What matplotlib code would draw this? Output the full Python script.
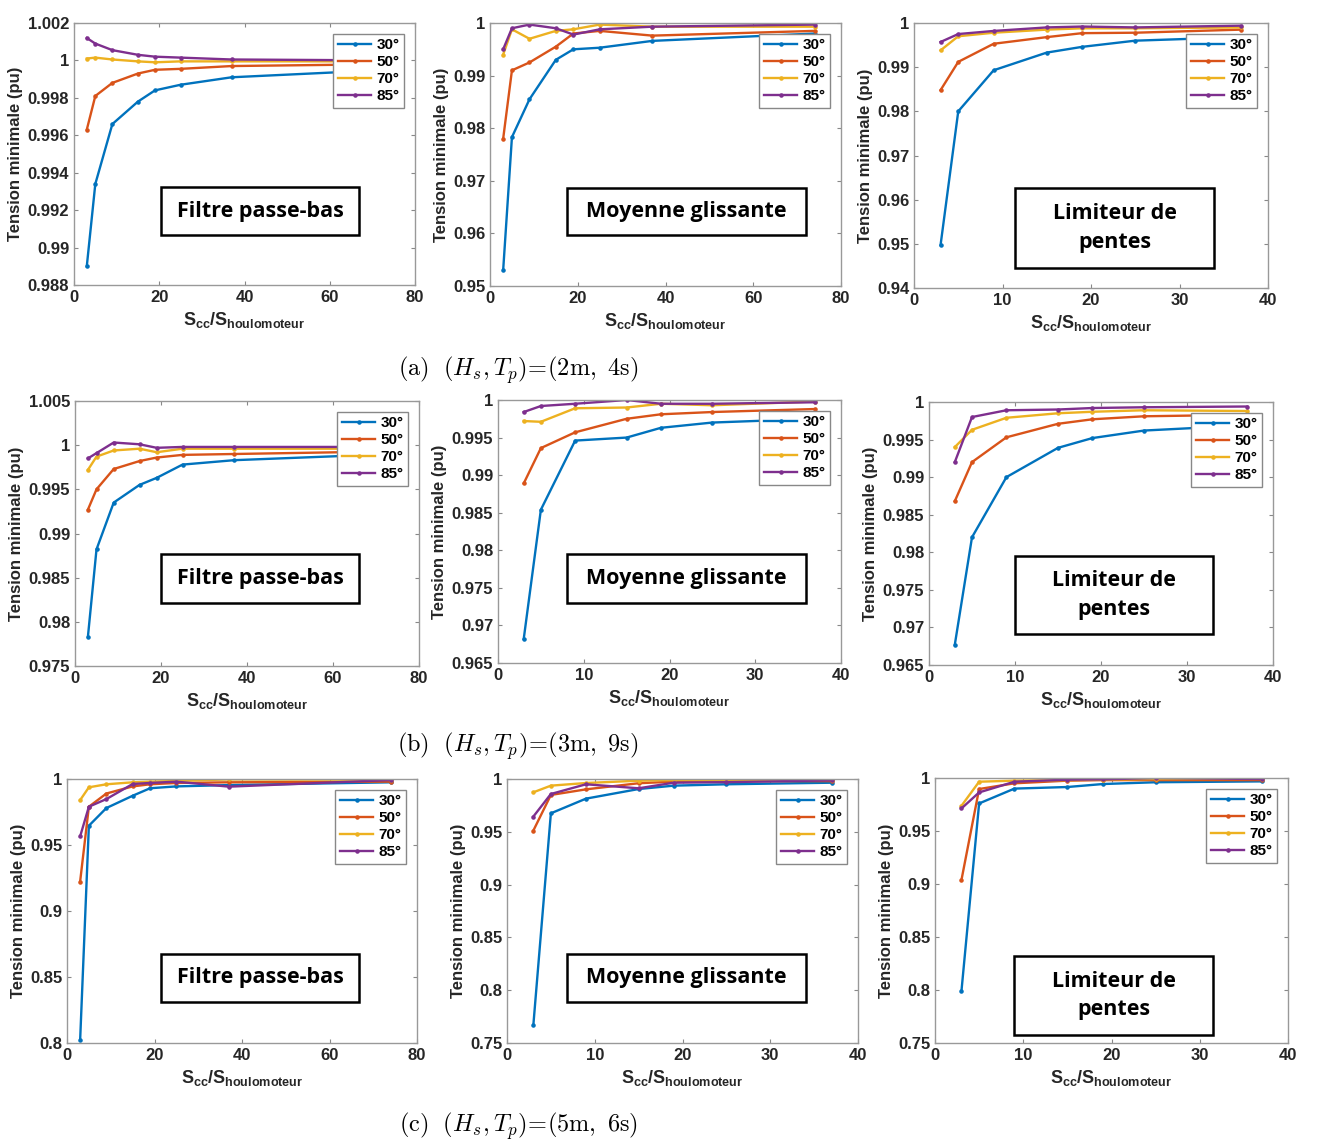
import numpy as np
import matplotlib
matplotlib.use('Agg')
import matplotlib.pyplot as plt
from matplotlib.patches import Rectangle
from matplotlib.ticker import FuncFormatter

W, H = 1320, 1144
plt.rcParams['font.family'] = ['Liberation Sans', 'DejaVu Sans']
plt.rcParams['font.weight'] = 'bold'
plt.rcParams['mathtext.fontset'] = 'custom'
plt.rcParams['mathtext.rm'] = 'Liberation Sans:bold'
plt.rcParams['mathtext.it'] = 'Liberation Sans:bold'
plt.rcParams['mathtext.bf'] = 'Liberation Sans:bold'

angles = ['30°', '50°', '70°', '85°']
colors = ['#0072BD', '#D95319', '#EDB120', '#7E2F8E']
x_long = [3, 5, 9, 15, 19, 25, 37, 74]
x_short = [3, 5, 9, 15, 19, 25, 37]

# (a) Hs=2m, Tp=4s
a_fpb_30 = [0.9890, 0.9934, 0.9966, 0.9978, 0.9984, 0.9987, 0.9991, 0.9995]
a_fpb_50 = [0.9963, 0.9981, 0.9988, 0.9993, 0.9995, 0.99955, 0.9997, 0.9998]
a_fpb_70 = [1.0001, 1.00015, 1.00005, 0.99995, 0.9999, 0.99995, 0.99995, 0.99995]
a_fpb_85 = [1.0012, 1.0009, 1.00055, 1.0003, 1.0002, 1.00015, 1.00005, 1.0]

a_mg_30 = [0.953, 0.9783, 0.9855, 0.993, 0.995, 0.9953, 0.9966, 0.998]
a_mg_50 = [0.978, 0.991, 0.9925, 0.9955, 0.998, 0.9985, 0.9976, 0.9985]
a_mg_70 = [0.994, 0.9988, 0.997, 0.9985, 0.9988, 0.9997, 0.9993, 0.9993]
a_mg_85 = [0.995, 0.9990, 0.9997, 0.9990, 0.9978, 0.9988, 0.9993, 0.9997]

a_lp_30 = [0.9497, 0.980, 0.9893, 0.9933, 0.9946, 0.996, 0.9968]
a_lp_50 = [0.9848, 0.9912, 0.9953, 0.9968, 0.9977, 0.9978, 0.9985]
a_lp_70 = [0.9938, 0.9970, 0.9978, 0.9985, 0.9988, 0.9988, 0.9990]
a_lp_85 = [0.9957, 0.9975, 0.9982, 0.9990, 0.9992, 0.9990, 0.9994]

# (b) Hs=3m, Tp=9s
b_fpb_30 = [0.9783, 0.9882, 0.9935, 0.9955, 0.9963, 0.9978, 0.9983, 0.9990]
b_fpb_50 = [0.9927, 0.9950, 0.9973, 0.9982, 0.9986, 0.9989, 0.9990, 0.9993]
b_fpb_70 = [0.9972, 0.9987, 0.9994, 0.9996, 0.9992, 0.9996, 0.9996, 0.9996]
b_fpb_85 = [0.9985, 0.9991, 1.0003, 1.0001, 0.9997, 0.9998, 0.9998, 0.9998]

b_mg_30 = [0.9682, 0.9854, 0.9946, 0.9950, 0.9963, 0.9970, 0.9975]
b_mg_50 = [0.9889, 0.9936, 0.9957, 0.9975, 0.9981, 0.9984, 0.9988]
b_mg_70 = [0.9972, 0.9971, 0.9989, 0.9990, 0.9995, 0.9993, 0.9998]
b_mg_85 = [0.9984, 0.9992, 0.9995, 1.0000, 0.9995, 0.9995, 0.9997]

b_lp_30 = [0.9677, 0.9820, 0.9900, 0.9939, 0.9952, 0.9962, 0.9969]
b_lp_50 = [0.9868, 0.9920, 0.9953, 0.9971, 0.9977, 0.9981, 0.9983]
b_lp_70 = [0.9940, 0.9963, 0.9979, 0.9985, 0.9987, 0.9989, 0.9988]
b_lp_85 = [0.9920, 0.9980, 0.9989, 0.9990, 0.9992, 0.9993, 0.9994]

# (c) Hs=5m, Tp=6s
c_fpb_30 = [0.802, 0.9646, 0.978, 0.9873, 0.993, 0.9944, 0.9954, 0.9975]
c_fpb_50 = [0.9223, 0.979, 0.989, 0.9944, 0.996, 0.997, 0.9975, 0.998]
c_fpb_70 = [0.984, 0.9937, 0.996, 0.9975, 0.998, 0.9985, 0.9997, 0.9995]
c_fpb_85 = [0.9565, 0.979, 0.9848, 0.9962, 0.997, 0.998, 0.9942, 0.9992]

c_mg_30 = [0.7667, 0.9675, 0.9814, 0.9905, 0.9937, 0.995, 0.9965]
c_mg_50 = [0.9511, 0.9849, 0.9902, 0.996, 0.9975, 0.998, 0.998]
c_mg_70 = [0.9874, 0.9937, 0.9962, 0.9984, 0.999, 0.999, 0.9992]
c_mg_85 = [0.9644, 0.9858, 0.995, 0.9912, 0.9965, 0.997, 0.9987]

c_lp_30 = [0.7992, 0.976, 0.990, 0.9915, 0.9943, 0.996, 0.9968]
c_lp_50 = [0.9039, 0.9896, 0.995, 0.9975, 0.998, 0.998, 0.998]
c_lp_70 = [0.9738, 0.9965, 0.9975, 0.998, 0.9985, 0.999, 0.9993]
c_lp_85 = [0.9713, 0.9864, 0.9965, 0.9984, 0.9987, 1.0, 0.999]

captions = [r'$\mathrm{(a)}\ \ (H_s, T_p)\!=\!(2\mathrm{m},\ 4\mathrm{s})$',
            r'$\mathrm{(b)}\ \ (H_s, T_p)\!=\!(3\mathrm{m},\ 9\mathrm{s})$',
            r'$\mathrm{(c)}\ \ (H_s, T_p)\!=\!(5\mathrm{m},\ 6\mathrm{s})$']

methods = ['Filtre passe-bas', 'Moyenne glissante', 'Limiteur de\npentes']

panels = [
    # axes px (l, t, r, b), x, series, (ymin, ymax, step), xmax, box px (l, t, r, b), label
    ((74, 23, 415, 285), x_long, [a_fpb_30, a_fpb_50, a_fpb_70, a_fpb_85], (0.988, 1.002, 0.002), 80, (161, 187, 359, 235), methods[0]),
    ((490, 23, 841, 286), x_long, [a_mg_30, a_mg_50, a_mg_70, a_mg_85], (0.95, 1.0, 0.01), 80, (567, 188, 806, 235), methods[1]),
    ((914, 23, 1268, 288), x_short, [a_lp_30, a_lp_50, a_lp_70, a_lp_85], (0.94, 1.0, 0.01), 40, (1015, 188, 1214, 268), methods[2]),
    ((75, 401, 419, 666), x_long, [b_fpb_30, b_fpb_50, b_fpb_70, b_fpb_85], (0.975, 1.005, 0.005), 80, (161, 554, 359, 603), methods[0]),
    ((498, 400, 841, 663), x_short, [b_mg_30, b_mg_50, b_mg_70, b_mg_85], (0.965, 1.0, 0.005), 40, (567, 554, 806, 603), methods[1]),
    ((929, 402, 1273, 665), x_short, [b_lp_30, b_lp_50, b_lp_70, b_lp_85], (0.965, 1.0, 0.005), 40, (1015, 556, 1213, 634), methods[2]),
    ((67, 779, 417, 1043), x_long, [c_fpb_30, c_fpb_50, c_fpb_70, c_fpb_85], (0.8, 1.0, 0.05), 80, (161, 954, 359, 1002), methods[0]),
    ((507, 779, 858, 1043), x_short, [c_mg_30, c_mg_50, c_mg_70, c_mg_85], (0.75, 1.0, 0.05), 40, (567, 954, 806, 1002), methods[1]),
    ((935, 778, 1288, 1043), x_short, [c_lp_30, c_lp_50, c_lp_70, c_lp_85], (0.75, 1.0, 0.05), 40, (1014, 956, 1213, 1035), methods[2]),
]

fig = plt.figure(figsize=(W / 100, H / 100), dpi=100)
fmt = FuncFormatter(lambda v, p: '%g' % round(v, 6))
tick_col = '#262626'

for (l, t, r, b), x, series, (y0, y1, ys), xmax, (bl, bt, br, bb), label in panels:
    ax = fig.add_axes([l / W, 1 - b / H, (r - l) / W, (b - t) / H])
    for s, c, name in zip(series, colors, angles):
        ax.plot(x, s, '.-', color=c, lw=1.7, ms=4.5, label=name)
    ax.set_xlim(0, xmax)
    ax.set_ylim(y0, y1)
    ax.set_xticks(np.arange(0, xmax + 1, xmax / 4))
    ax.set_yticks(np.round(np.arange(y0, y1 + ys / 2, ys), 6))
    ax.xaxis.set_major_formatter(FuncFormatter(lambda v, p: '%g' % v))
    ax.yaxis.set_major_formatter(fmt)
    ax.tick_params(direction='in', top=True, right=True, length=3, width=0.8,
                   colors='#888888', labelcolor=tick_col, labelsize=12)
    for lab in ax.get_xticklabels() + ax.get_yticklabels():
        lab.set_fontweight('bold')
    for sp in ax.spines.values():
        sp.set_color('#999999')
        sp.set_linewidth(1.0)
    ax.set_ylabel('Tension minimale (pu)', fontsize=12, fontweight='bold',
                  color=tick_col, labelpad=3)
    ax.set_xlabel(r'$S_{cc}/S_{houlomoteur}$', fontsize=13, color=tick_col, labelpad=4)
    leg = ax.legend(loc='upper right', handlelength=2.2, handletextpad=0.35,
                    labelspacing=0.2, borderpad=0.3, borderaxespad=0.7, fancybox=False,
                    framealpha=1, edgecolor='#888888', prop={'weight': 'bold', 'size': 11})
    leg.get_frame().set_linewidth(1.0)
    # annotation box
    fig.add_artist(Rectangle((bl / W, 1 - bb / H), (br - bl) / W, (bb - bt) / H,
                             transform=fig.transFigure, fill=True, facecolor='white',
                             edgecolor='black', lw=1.8, zorder=5))
    fig.text((bl + br) / 2 / W, 1 - (bt + bb) / 2 / H, label, ha='center', va='center',
             family='Open Sans', weight='bold', fontsize=15.5, linespacing=1.45, zorder=6)

for cap, yc in zip(captions, [370, 746, 1126]):
    fig.text(518 / W, 1 - yc / H, cap, ha='center', va='center', fontsize=17.5,
             math_fontfamily='cm')

fig.savefig('out.png', dpi=100)
